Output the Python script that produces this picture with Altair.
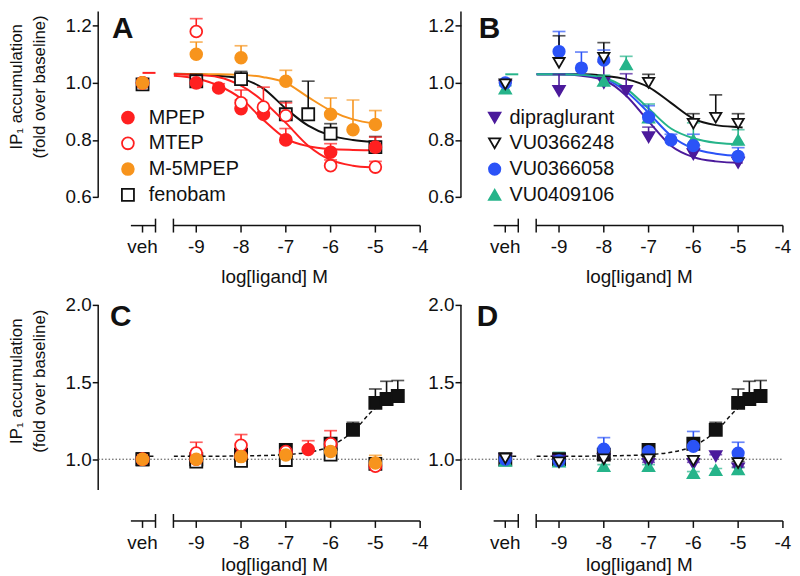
import altair as alt
import pandas as pd

FONT = "Liberation Sans"
INK = "#111111"

# ---------------- x layout (log[ligand] M) ----------------
VEH = -10.2
VEH_START = -10.46
VEH_END = -9.91
AXIS_START = -9.51
AXIS_END = -4.0
XTICK_VALUES = [VEH, -9, -8, -7, -6, -5, -4]
XTICK_LABELS = ["veh", "-9", "-8", "-7", "-6", "-5", "-4"]
XDOM = [-11.19, -3.93]
W = 328

ROW1_YDOM = [0.5, 1.25]
ROW1_H = 216
ROW1_YTICKS = [0.6, 0.8, 1.0, 1.2]
ROW1_YLO = 0.6
ROW2_YDOM = [0.6, 2.0]
ROW2_H = 218
ROW2_YTICKS = [1.0, 1.5, 2.0]
ROW2_YLO = 0.8

# ---------------- panel A data ----------------
A_MPEP_X = [VEH, -9, -8.5, -8, -7.5, -7, -6, -5]
A_MPEP_Y = [1.0, 1.0, 0.982, 0.91, 0.89, 0.80, 0.757, 0.775]
A_MPEP_E = [0.01, 0.02, 0.015, 0.03, 0.03, 0.04, 0.03, 0.035]
A_MTEP_X = [VEH, -9, -8, -7.5, -7, -6, -5]
A_MTEP_Y = [1.0, 1.18, 0.93, 0.915, 0.885, 0.71, 0.705]
A_MTEP_E = [0.01, 0.045, 0.045, 0.07, 0.045, 0.02, 0.02]
A_M5_X = [VEH, -9, -8, -7, -6, -5.5, -5]
A_M5_Y = [1.0, 1.10, 1.088, 1.006, 0.89, 0.836, 0.854]
A_M5_E = [0.01, 0.043, 0.042, 0.038, 0.057, 0.104, 0.049]
A_FENO_X = [VEH, -9, -8, -7, -6.5, -6, -5]
A_FENO_Y = [0.995, 1.005, 1.013, 0.89, 0.89, 0.822, 0.775]
A_FENO_E = [0.01, 0.025, 0.027, 0.045, 0.116, 0.035, 0.037]

CURVE_X = [-9.5, -9, -8.5, -8, -7.5, -7, -6.5, -6, -5.5, -5, -4.9]
A_CURVE_FENO = [1.032, 1.03, 1.025, 1.015, 0.98, 0.91, 0.85, 0.815, 0.80, 0.793, 0.792]
A_CURVE_M5 = [1.03, 1.03, 1.03, 1.028, 1.02, 1.0, 0.95, 0.903, 0.872, 0.857, 0.855]
A_CURVE_MPEP = [1.025, 1.015, 0.99, 0.945, 0.87, 0.805, 0.778, 0.768, 0.765, 0.764, 0.764]
A_CURVE_MTEP = [1.03, 1.028, 1.02, 0.99, 0.935, 0.86, 0.78, 0.73, 0.71, 0.703, 0.702]
A_VEH_LEVEL = 1.035

# ---------------- panel B data ----------------
B_DIPRA_X = [VEH, -9, -8, -7.5, -7, -6, -5]
B_DIPRA_Y = [0.99, 0.972, 1.0, 0.972, 0.81, 0.75, 0.72]
B_DIPRA_E = [0.01, 0.058, 0.074, 0.06, 0.035, 0.02, 0.02]
B_V248_X = [VEH, -9, -8, -7, -6, -5.5, -5]
B_V248_Y = [0.995, 1.07, 1.088, 1.0, 0.857, 0.878, 0.857]
B_V248_E = [0.01, 0.095, 0.053, 0.03, 0.035, 0.08, 0.035]
B_V058_X = [VEH, -9, -8.5, -8, -7, -6.5, -6, -5]
B_V058_Y = [1.0, 1.11, 1.052, 1.08, 0.88, 0.80, 0.78, 0.743]
B_V058_E = [0.01, 0.07, 0.056, 0.035, 0.04, 0.02, 0.04, 0.03]
B_V106_X = [VEH, -8, -7.5, -7, -6, -5]
B_V106_Y = [0.98, 1.007, 1.065, 0.878, 0.80, 0.80]
B_V106_E = [0.01, 0.02, 0.028, 0.048, 0.06, 0.036]

B_CURVE_V248 = [1.03, 1.03, 1.03, 1.025, 1.013, 0.985, 0.93, 0.875, 0.852, 0.845, 0.844]
B_CURVE_V106 = [1.03, 1.03, 1.028, 1.018, 0.98, 0.91, 0.84, 0.806, 0.79, 0.785, 0.785]
B_CURVE_V058 = [1.03, 1.03, 1.028, 1.015, 0.97, 0.895, 0.815, 0.77, 0.752, 0.745, 0.745]
B_CURVE_DIPRA = [1.03, 1.03, 1.025, 1.01, 0.955, 0.865, 0.78, 0.74, 0.725, 0.72, 0.72]
B_VEH_LEVEL = 1.03

# ---------------- panels C / D data ----------------
REF_X = [VEH, -9, -8, -7, -6, -5.5, -5, -4.75, -4.5]
REF_Y = [1.0, 1.0, 1.03, 1.06, 1.10, 1.19, 1.365, 1.39, 1.41]
REF_E = [0.01, 0.01, 0.02, 0.02, 0.03, 0.049, 0.09, 0.115, 0.10]
REF_CURVE = [1.02, 1.02, 1.02, 1.021, 1.024, 1.03, 1.045, 1.085, 1.18, 1.33, 1.35]
REF_VEH_LEVEL = 1.02

C_MPEP_X = [VEH, -9, -8, -7, -6.5, -6, -5]
C_MPEP_Y = [1.0, 1.0, 1.02, 1.04, 1.063, 1.095, 0.96]
C_MPEP_E = [0.01, 0.01, 0.02, 0.055, 0.057, 0.03, 0.03]
C_MTEP_X = [VEH, -9, -8, -7, -6, -5]
C_MTEP_Y = [1.0, 1.04, 1.09, 1.05, 1.10, 0.955]
C_MTEP_E = [0.01, 0.07, 0.07, 0.05, 0.085, 0.04]
C_M5_X = [VEH, -9, -8, -7, -6, -5]
C_M5_Y = [1.0, 1.0, 1.017, 1.027, 1.05, 0.975]
C_M5_E = [0.01, 0.01, 0.01, 0.01, 0.01, 0.05]
C_FENO_X = [VEH, -9, -8, -7, -6, -5]
C_FENO_Y = [1.0, 0.985, 0.99, 0.995, 1.03, 0.97]
C_FENO_E = [0.01, 0.01, 0.01, 0.01, 0.01, 0.01]

D_DIPRA_X = [VEH, -9, -8, -7, -6, -5.5, -5]
D_DIPRA_Y = [1.0, 0.99, 1.0, 0.97, 0.97, 1.02, 0.94]
D_DIPRA_E = [0.01, 0.01, 0.01, 0.01, 0.01, 0.01, 0.01]
D_V248_X = [VEH, -9, -8, -7, -6, -5]
D_V248_Y = [1.005, 0.98, 1.0, 1.0, 0.99, 0.975]
D_V248_E = [0.01, 0.01, 0.01, 0.01, 0.01, 0.01]
D_V058_X = [VEH, -9, -8, -7, -6, -5]
D_V058_Y = [1.0, 0.99, 1.065, 1.05, 1.083, 1.04]
D_V058_E = [0.01, 0.01, 0.075, 0.03, 0.097, 0.07]
D_V106_X = [VEH, -9, -8, -7, -6, -5.5, -5]
D_V106_Y = [0.99, 0.985, 0.955, 0.955, 0.91, 0.93, 0.935]
D_V106_E = [0.01, 0.06, 0.01, 0.01, 0.01, 0.01, 0.01]

# ---------------- styles ----------------
SERIES = ["ref", "fenobam", "MPEP", "MTEP", "M-5MPEP",
          "dipraglurant", "VU0409106", "VU0366058", "VU0366248"]
STROKE = ["#111111", "#111111", "#FF2020", "#FF2020", "#F7941D",
          "#4B1A9B", "#26B48A", "#2B53F7", "#111111"]
FILL = ["#111111", "#ffffff", "#FF2020", "#ffffff", "#F7941D",
        "#4B1A9B", "#26B48A", "#2B53F7", "#ffffff"]
SHAPE = ["square", "square", "circle", "circle", "circle",
         "triangle-down", "triangle-up", "circle", "triangle-down"]
SIZE = [150, 130, 180, 150, 180, 210, 210, 180, 200]

LEGEND_A = ["MPEP", "MTEP", "M-5MPEP", "fenobam"]
LEGEND_B = ["dipraglurant", "VU0366248", "VU0366058", "VU0409106"]

shape_s = alt.Scale(domain=SERIES, range=SHAPE)
fill_s = alt.Scale(domain=SERIES, range=FILL)
stroke_s = alt.Scale(domain=SERIES, range=STROKE)
size_s = alt.Scale(domain=SERIES, range=SIZE)


def pts(series, xs, ys, es):
    return pd.DataFrame({"series": series, "x": xs, "y": ys,
                         "cap": [y + e for y, e in zip(ys, es)],
                         "o": SERIES.index(series)})


def curve(series, ys):
    return pd.DataFrame({"series": series, "seg": series + "_main", "x": CURVE_X, "y": ys})


def vehseg(series, level):
    return pd.DataFrame({"series": series, "seg": series + "_veh",
                         "x": [VEH, VEH_END], "y": [level, level]})


def xenc(field="x"):
    return alt.X(f"{field}:Q", scale=alt.Scale(domain=XDOM, nice=False, zero=False), axis=None)


def make_panel(points, curves, ydom, H, yticks, ylo, letter, letter_x, letter_y,
               ytitle_y, xtitle_x, xtitle_y, legend=None, legend_mx=0, legend_tx=0,
               dashed=False):
    def yenc(field):
        return alt.Y(f"{field}:Q", scale=alt.Scale(domain=ydom, nice=False, zero=False),
                     axis=alt.Axis(values=yticks, format=".1f", domain=False, grid=False,
                                   tickSize=6, tickWidth=1.5, tickColor=INK,
                                   labelFontSize=19, labelFont=FONT, labelColor=INK,
                                   labelPadding=1, title=None))

    layers = []
    # y axis line
    layers.append(alt.Chart(pd.DataFrame({"a": [ylo], "b": [ydom[1]]})).mark_rule(
        color=INK, strokeWidth=1.5).encode(x=alt.value(0), y=yenc("a"), y2=alt.Y2("b:Q")))
    # broken x axis
    layers.append(alt.Chart(pd.DataFrame({"x0": [VEH_START, AXIS_START],
                                          "x1": [VEH_END, AXIS_END]})).mark_rule(
        color=INK, strokeWidth=1.5).encode(x=xenc("x0"), x2=alt.X2("x1:Q"), y=alt.value(H)))
    layers.append(alt.Chart(pd.DataFrame({"x": [VEH_END, AXIS_START]})).mark_rule(
        color=INK, strokeWidth=1.5).encode(x=xenc(), y=alt.value(H - 7), y2=alt.value(H + 7)))
    layers.append(alt.Chart(pd.DataFrame({"x": XTICK_VALUES})).mark_rule(
        color=INK, strokeWidth=1.5).encode(x=xenc(), y=alt.value(H), y2=alt.value(H + 7)))
    layers.append(alt.Chart(pd.DataFrame({"x": XTICK_VALUES, "t": XTICK_LABELS})).mark_text(
        font=FONT, fontSize=19, color=INK, baseline="alphabetic", align="center").encode(
        x=xenc(), y=alt.value(H + 28), text="t:N"))
    # titles
    layers.append(alt.Chart(pd.DataFrame({"t": ["log[ligand] M"]})).mark_text(
        font=FONT, fontSize=19, color=INK, baseline="alphabetic", align="center").encode(
        x=alt.value(xtitle_x), y=alt.value(xtitle_y), text="t:N"))
    if ytitle_y is not None:
        for txt, px in [("IP\u2081 accumulation", -82), ("(fold over baseline)", -59)]:
            layers.append(alt.Chart(pd.DataFrame({"t": [txt]})).mark_text(
                font=FONT, fontSize=17, color=INK, angle=270, align="center",
                baseline="middle").encode(x=alt.value(px), y=alt.value(ytitle_y), text="t:N"))
    layers.append(alt.Chart(pd.DataFrame({"t": [letter]})).mark_text(
        font=FONT, fontSize=30, fontWeight="bold", color=INK, align="left",
        baseline="alphabetic").encode(x=alt.value(letter_x), y=alt.value(letter_y), text="t:N"))
    # curves
    if dashed:
        layers.append(alt.Chart(pd.DataFrame({"x": [XDOM[0], AXIS_END], "y": [1.0, 1.0]})).mark_line(
            color="#444444", strokeWidth=1, strokeDash=[1.5, 2]).encode(x=xenc(), y=yenc("y")))
        layers.append(alt.Chart(curves).mark_line(
            color=INK, strokeWidth=1.5, strokeDash=[4, 3], interpolate="monotone").encode(
            x=xenc(), y=yenc("y"), detail="seg:N"))
    else:
        layers.append(alt.Chart(curves).mark_line(strokeWidth=2, interpolate="monotone").encode(
            x=xenc(), y=yenc("y"), detail="seg:N",
            stroke=alt.Stroke("series:N", scale=stroke_s, legend=None)))
    # error bars
    layers.append(alt.Chart(points).mark_rule(strokeWidth=1.6).encode(
        x=xenc(), y=yenc("y"), y2=alt.Y2("cap:Q"),
        stroke=alt.Stroke("series:N", scale=stroke_s, legend=None)))
    layers.append(alt.Chart(points).mark_tick(orient="horizontal", size=13, thickness=1.7).encode(
        x=xenc(), y=yenc("cap"), color=alt.Color("series:N", scale=stroke_s, legend=None)))
    # markers
    layers.append(alt.Chart(points).mark_point(filled=False, opacity=1, strokeWidth=1.8).encode(
        x=xenc(), y=yenc("y"),
        shape=alt.Shape("series:N", scale=shape_s, legend=None),
        fill=alt.Fill("series:N", scale=fill_s, legend=None),
        stroke=alt.Stroke("series:N", scale=stroke_s, legend=None),
        size=alt.Size("series:N", scale=size_s, legend=None),
        order=alt.Order("o:Q")))
    # hand legend
    if legend is not None:
        ldf = pd.DataFrame({"series": legend, "ly": [107 + 26 * i for i in range(len(legend))]})
        layers.append(alt.Chart(ldf).mark_point(filled=False, opacity=1, strokeWidth=1.8).encode(
            x=alt.value(legend_mx), y=alt.Y("ly:Q", scale=None),
            shape=alt.Shape("series:N", scale=shape_s, legend=None),
            fill=alt.Fill("series:N", scale=fill_s, legend=None),
            stroke=alt.Stroke("series:N", scale=stroke_s, legend=None),
            size=alt.Size("series:N", scale=size_s, legend=None)))
        layers.append(alt.Chart(ldf).mark_text(
            font=FONT, fontSize=20, color=INK, align="left", baseline="middle").encode(
            x=alt.value(legend_tx), y=alt.Y("ly:Q", scale=None), text="series:N"))
    return alt.layer(*layers).properties(width=W, height=H)


# ---- assemble data frames ----
ptsA = pd.concat([pts("fenobam", A_FENO_X, A_FENO_Y, A_FENO_E),
                  pts("MPEP", A_MPEP_X, A_MPEP_Y, A_MPEP_E),
                  pts("MTEP", A_MTEP_X, A_MTEP_Y, A_MTEP_E),
                  pts("M-5MPEP", A_M5_X, A_M5_Y, A_M5_E)], ignore_index=True)
curA = pd.concat([curve("fenobam", A_CURVE_FENO), curve("M-5MPEP", A_CURVE_M5),
                  curve("MPEP", A_CURVE_MPEP), curve("MTEP", A_CURVE_MTEP),
                  vehseg("MTEP", A_VEH_LEVEL)], ignore_index=True)

ptsB = pd.concat([pts("dipraglurant", B_DIPRA_X, B_DIPRA_Y, B_DIPRA_E),
                  pts("VU0409106", B_V106_X, B_V106_Y, B_V106_E),
                  pts("VU0366058", B_V058_X, B_V058_Y, B_V058_E),
                  pts("VU0366248", B_V248_X, B_V248_Y, B_V248_E)], ignore_index=True)
curB = pd.concat([curve("VU0366248", B_CURVE_V248), curve("dipraglurant", B_CURVE_DIPRA),
                  curve("VU0366058", B_CURVE_V058), curve("VU0409106", B_CURVE_V106),
                  vehseg("VU0409106", B_VEH_LEVEL)], ignore_index=True)

ptsC = pd.concat([pts("ref", REF_X, REF_Y, REF_E),
                  pts("fenobam", C_FENO_X, C_FENO_Y, C_FENO_E),
                  pts("MPEP", C_MPEP_X, C_MPEP_Y, C_MPEP_E),
                  pts("MTEP", C_MTEP_X, C_MTEP_Y, C_MTEP_E),
                  pts("M-5MPEP", C_M5_X, C_M5_Y, C_M5_E)], ignore_index=True)
ptsD = pd.concat([pts("ref", REF_X, REF_Y, REF_E),
                  pts("VU0409106", D_V106_X, D_V106_Y, D_V106_E),
                  pts("dipraglurant", D_DIPRA_X, D_DIPRA_Y, D_DIPRA_E),
                  pts("VU0366058", D_V058_X, D_V058_Y, D_V058_E),
                  pts("VU0366248", D_V248_X, D_V248_Y, D_V248_E)], ignore_index=True)
curRef = pd.concat([curve("ref", REF_CURVE), vehseg("ref", REF_VEH_LEVEL)], ignore_index=True)

pA = make_panel(ptsA, curA, ROW1_YDOM, ROW1_H, ROW1_YTICKS, ROW1_YLO, "A", 14, 27,
                76, 178, ROW1_H + 58, legend=LEGEND_A, legend_mx=30, legend_tx=51)
pB = make_panel(ptsB, curB, ROW1_YDOM, ROW1_H, ROW1_YTICKS, ROW1_YLO, "B", 18, 27,
                None, 180, ROW1_H + 58, legend=LEGEND_B, legend_mx=34, legend_tx=49)
pC = make_panel(ptsC, curRef, ROW2_YDOM, ROW2_H, ROW2_YTICKS, ROW2_YLO, "C", 12, 21,
                77, 178, ROW2_H + 50, dashed=True)
pD = make_panel(ptsD, curRef, ROW2_YDOM, ROW2_H, ROW2_YTICKS, ROW2_YLO, "D", 16, 21,
                None, 180, ROW2_H + 50, dashed=True)

chart = alt.concat(pA, pB, pC, pD, columns=2, spacing={"row": 80, "column": 38},
                   bounds="flush").properties(padding=0).configure(
    font=FONT).configure_view(stroke="transparent", strokeWidth=0)

chart.save("out.html", embed_options={"renderer": "svg", "actions": False})
